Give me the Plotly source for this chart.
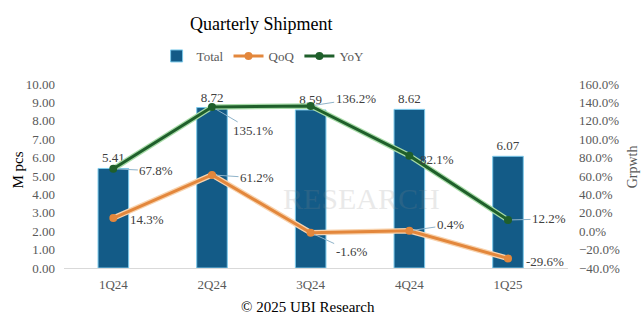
import plotly.graph_objects as go

categories = ["1Q24", "2Q24", "3Q24", "4Q24", "1Q25"]
total = [5.41, 8.72, 8.59, 8.62, 6.07]
qoq = [14.3, 61.2, -1.6, 0.4, -29.6]
yoy = [67.8, 135.1, 136.2, 82.1, 12.2]

# label offsets (px) for line data labels: (ax, ay, show_leader)
yoy_off = [(43, 2, True), (41, 24, True), (45, -7, True), (28, 4, False), (41, -1, True)]
qoq_off = [(34, 1, False), (45, 3, True), (41, 19, True), (41, -6, True), (37, 3, False)]

FONT = "Liberation Serif"
BAR_C = "#135b87"
YOY_C = "#1f5f2b"
YOY_GLOW = "#a8dca8"
QOQ_C = "#e3873c"
QOQ_GLOW = "#f8d3ae"

L, R, T, B = 63.5, 568.5, 84, 268
PW, PH = R - L, B - T


def px(xp):
    return (xp - L) / PW


def py(yp):
    return (B - yp) / PH


fig = go.Figure()
fig.add_trace(go.Bar(
    x=categories, y=total, name="Total", marker=dict(color=BAR_C, line=dict(color="#7cc9ea", width=1)),
    width=0.31, text=[f"{v:.2f}" for v in total], textposition="outside",
    textfont=dict(family=FONT, size=13, color="#404040"), cliponaxis=False,
))
fig.add_trace(go.Scatter(x=categories, y=qoq, yaxis="y2", mode="lines", line=dict(color=QOQ_GLOW, width=5.5),
                         showlegend=False, hoverinfo="skip"))
fig.add_trace(go.Scatter(x=categories, y=yoy, yaxis="y2", mode="lines", line=dict(color=YOY_GLOW, width=5.5),
                         showlegend=False, hoverinfo="skip"))
fig.add_trace(go.Scatter(x=categories, y=qoq, yaxis="y2", name="QoQ", mode="lines+markers",
                         line=dict(color=QOQ_C, width=3), marker=dict(size=8, color=QOQ_C)))
fig.add_trace(go.Scatter(x=categories, y=yoy, yaxis="y2", name="YoY", mode="lines+markers",
                         line=dict(color=YOY_C, width=3), marker=dict(size=8, color=YOY_C)))

ann = []
ann.append(dict(x=px(362), y=py(198), xref="paper", yref="paper", xanchor="center", yanchor="middle",
                text="RESEARCH", showarrow=False, opacity=0.18,
                font=dict(family=FONT, size=30, color="#8a8a8a")))

for series, offs in ((yoy, yoy_off), (qoq, qoq_off)):
    for c, v, (ax, ay, lead) in zip(categories, series, offs):
        if lead:
            ann.append(dict(x=c, y=v, xref="x", yref="y2", text=f"{v:.1f}%", showarrow=True,
                            arrowhead=0, arrowwidth=1, arrowcolor="#8fb3c9", ax=ax, ay=ay, standoff=4,
                            font=dict(family=FONT, size=13, color="#404040")))
        else:
            ann.append(dict(x=c, y=v, xref="x", yref="y2", text=f"{v:.1f}%", showarrow=False,
                            xshift=ax, yshift=-ay, font=dict(family=FONT, size=13, color="#404040")))

ann.append(dict(x=px(261), y=py(24), xref="paper", yref="paper", xanchor="center", yanchor="middle",
                text="Quarterly Shipment", showarrow=False,
                font=dict(family=FONT, size=18, color="#000000")))
ann.append(dict(x=px(17), y=py(170), xref="paper", yref="paper", xanchor="center", yanchor="middle",
                text="M pcs", textangle=-90, showarrow=False,
                font=dict(family=FONT, size=15, color="#000000")))
ann.append(dict(x=px(633), y=py(167), xref="paper", yref="paper", xanchor="center", yanchor="middle",
                text="Grpwth", textangle=-90, showarrow=False,
                font=dict(family=FONT, size=14, color="#595959")))
ann.append(dict(x=px(308), y=py(307), xref="paper", yref="paper", xanchor="center", yanchor="middle",
                text="© 2025 UBI Research", showarrow=False,
                font=dict(family=FONT, size=15, color="#000000")))

fig.update_layout(
    width=644, height=327,
    margin=dict(l=L, r=644 - R, t=T, b=327 - B),
    paper_bgcolor="white", plot_bgcolor="white",
    font=dict(family=FONT, size=13, color="#595959"),
    legend=dict(orientation="h", x=px(263), xanchor="center", y=py(56), yanchor="middle",
                font=dict(family=FONT, size=13, color="#595959"), itemwidth=30, traceorder="normal"),
    xaxis=dict(showline=True, linecolor="#d9d9d9", linewidth=1, ticks="", showgrid=False,
               tickfont=dict(family=FONT, size=13, color="#595959"), ticklabelstandoff=4),
    yaxis=dict(range=[0, 10], dtick=1, tickformat=".2f", showgrid=False, zeroline=False, ticks="",
               tickfont=dict(family=FONT, size=13, color="#595959"), ticklabelstandoff=8),
    yaxis2=dict(range=[-40, 160], dtick=20, tickformat=".1f", ticksuffix="%", overlaying="y", side="right",
                showgrid=False, zeroline=False, ticks="",
                tickfont=dict(family=FONT, size=13, color="#595959"), ticklabelstandoff=10),
    annotations=ann,
)

fig.write_html("out.html")
